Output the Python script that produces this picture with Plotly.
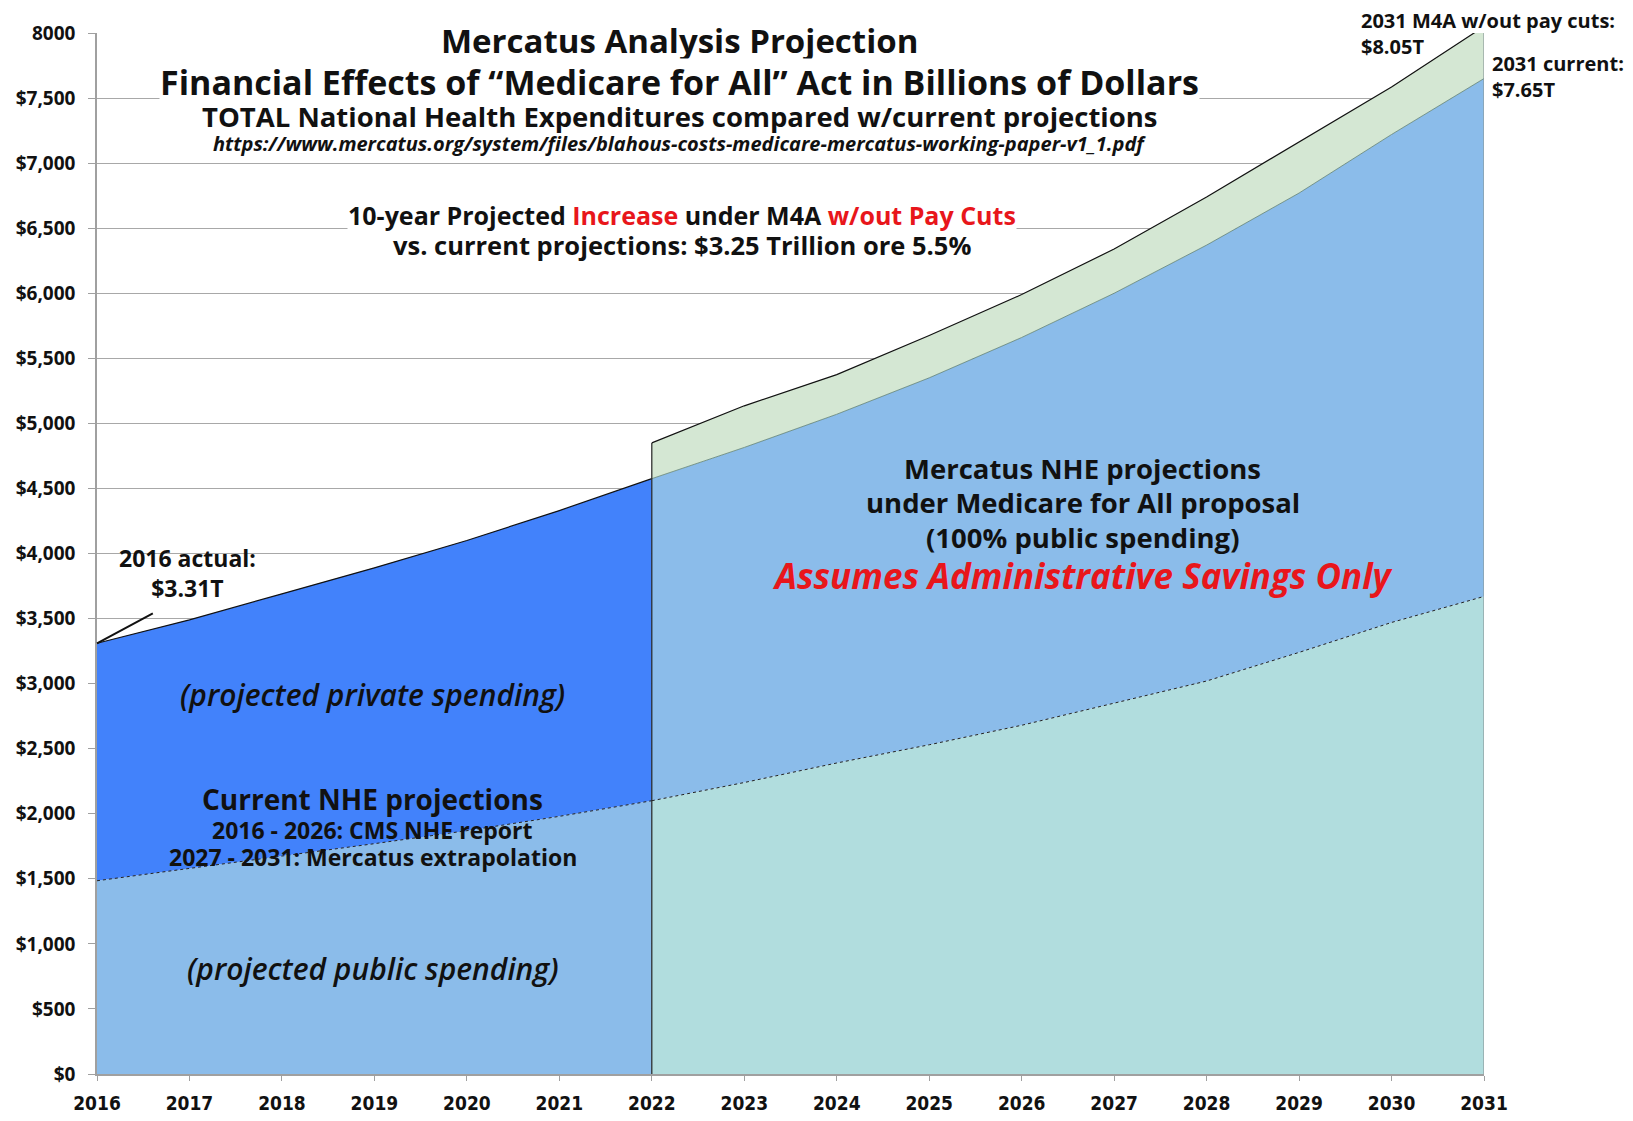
import plotly.graph_objects as go

# years
years_hist = [2016, 2017, 2018, 2019, 2020, 2021, 2022]
years_proj = [2022, 2023, 2024, 2025, 2026, 2027, 2028, 2029, 2030, 2031]

# current NHE projections (billions $)
total_hist = [3310, 3490, 3690, 3890, 4100, 4330, 4575]
public_hist = [1485, 1580, 1670, 1770, 1870, 1980, 2100]
total_proj = [4575, 4815, 5070, 5350, 5660, 6000, 6370, 6770, 7220, 7650]
public_proj = [2100, 2240, 2390, 2530, 2680, 2850, 3020, 3240, 3470, 3670]

# Mercatus M4A w/out pay cuts
m4a_proj = [4850, 5135, 5375, 5675, 5990, 6340, 6740, 7165, 7585, 8050]

y_ticks = list(range(0, 8001, 500))
y_labels = ['$' + f'{v:,}' for v in y_ticks[:-1]] + ['8000']
x_ticks = list(range(2016, 2032))

FONT = 'Open Sans'
BLACK = '#111111'
RED = '#E8161B'

fig = go.Figure()

# public spending 2016-2022
fig.add_trace(go.Scatter(x=years_hist, y=public_hist, mode='lines', fill='tozeroy',
                         fillcolor='#8BBCEA', line=dict(color='#222222', width=1, dash='dot'),
                         showlegend=False, hoverinfo='skip'))
# private spending 2016-2022
fig.add_trace(go.Scatter(x=years_hist, y=total_hist, mode='lines', fill='tonexty',
                         fillcolor='#4282FB', line=dict(color='#111111', width=1.2),
                         showlegend=False, hoverinfo='skip'))
# public under current projections 2022-2031
fig.add_trace(go.Scatter(x=years_proj, y=public_proj, mode='lines', fill='tozeroy',
                         fillcolor='#B1DDDE', line=dict(color='#222222', width=1, dash='dot'),
                         showlegend=False, hoverinfo='skip'))
# rest of current total 2022-2031
fig.add_trace(go.Scatter(x=years_proj, y=total_proj, mode='lines', fill='tonexty',
                         fillcolor='#8BBCEA', line=dict(color='#5d7f73', width=0.8),
                         showlegend=False, hoverinfo='skip'))
# M4A increase
fig.add_trace(go.Scatter(x=years_proj, y=m4a_proj, mode='lines', fill='tonexty',
                         fillcolor='#D4E7D3', line=dict(color='#111111', width=1.2),
                         showlegend=False, hoverinfo='skip'))
# vertical edges
fig.add_trace(go.Scatter(x=[years_proj[0], years_proj[0]], y=[0, m4a_proj[0]], mode='lines',
                         line=dict(color='#222222', width=1.2), showlegend=False, hoverinfo='skip'))
fig.add_trace(go.Scatter(x=[years_proj[-1], years_proj[-1]], y=[0, m4a_proj[-1]], mode='lines',
                         line=dict(color='#8a9a9a', width=1.2), showlegend=False, hoverinfo='skip'))

def note(x, y, text, size, color=BLACK, bg=None, xanchor='center', ref='', weight=None, pad=0):
    fig.add_annotation(x=x, y=y, xref='paper' if ref else 'x', yref='paper' if ref else 'y',
                       text=text, showarrow=False,
                       font=dict(family=FONT, size=size, color=color, weight=weight),
                       bgcolor=bg, xanchor=xanchor, yanchor='middle',
                       align=xanchor if xanchor != 'center' else 'center', borderpad=pad)

# titles (order matters: later ones are drawn on top of the white boxes)
note(2022.3, 7945, '<b>Mercatus Analysis Projection</b>', 33, bg='white')
note(2022.3, 7624, '<b>Financial Effects of “Medicare for All” Act in Billions of Dollars</b>', 34, bg='white')
note(2022.3, 7151, '<b><i>https://www.mercatus.org/system/files/blahous-costs-medicare-mercatus-working-paper-v1_1.pdf</i></b>',
     20, bg='white', pad=5)
note(2022.3, 7360, '<b>TOTAL National Health Expenditures compared w/current projections</b>', 27.5)

note(2022.33, 6605, '<b>10-year Projected <span style="color:#E8161B">Increase</span> under M4A '
                    '<span style="color:#E8161B">w/out Pay Cuts</span></b>', 25, bg='white')
note(2022.33, 6372, '<b>vs. current projections: $3.25 Trillion ore 5.5%</b>', 25.5)

note(2026.66, 4655, '<b>Mercatus NHE projections</b>', 27.5)
note(2026.66, 4390, '<b>under Medicare for All proposal</b>', 27.5)
note(2026.66, 4125, '<b>(100% public spending)</b>', 27.5)
note(2026.66, 3828, '<b><i>Assumes Administrative Savings Only</i></b>', 35, color=RED)

note(2018.98, 2913, '<i>(projected private spending)</i>', 30, weight=600)
note(2018.98, 2111, '<b>Current NHE projections</b>', 28)
note(2018.98, 1878, '<b>2016 - 2026: CMS NHE report</b>', 23)
note(2018.98, 1669, '<b>2027 - 2031: Mercatus extrapolation</b>', 23)
note(2018.98, 811, '<i>(projected public spending)</i>', 30, weight=600)

note(2016.98, 3852, '<b>2016 actual:<br>$3.31T</b>', 23)
fig.add_annotation(x=years_hist[0], y=total_hist[0], ax=2016.62, ay=3547, xref='x', yref='y',
                   axref='x', ayref='y', text='', showarrow=True, arrowhead=0,
                   arrowwidth=2, arrowcolor=BLACK)

# labels right of / above the plot area (paper coords so they are not hidden)
note(0.9105, 0.9995, '<b>2031 M4A w/out pay cuts:<br>$8.05T</b>', 20, xanchor='left', ref='paper')
note(1.0053, 0.958, '<b>2031 current:<br>$7.65T</b>', 20, xanchor='left', ref='paper')

fig.update_xaxes(range=[2016, 2031], tickvals=x_ticks, ticktext=[str(v) for v in x_ticks],
                 showgrid=False, zeroline=False, showline=True, linecolor='#a0a0a0', linewidth=1.5,
                 ticks='outside', ticklen=5, tickcolor='#a0a0a0', ticklabelstandoff=6,
                 automargin=False,
                 tickfont=dict(family='DejaVu Sans Condensed', size=19,
                               color=BLACK, weight='bold'))
fig.update_yaxes(range=[0, 8000], tickvals=y_ticks, ticktext=y_labels,
                 showgrid=True, gridcolor='#a8a8a8', gridwidth=1, zeroline=False,
                 showline=True, linecolor='#a0a0a0', linewidth=1.5,
                 ticks='outside', ticklen=7, tickcolor='#a0a0a0', ticklabelstandoff=9,
                 automargin=False,
                 tickfont=dict(family=FONT, size=19, color=BLACK, weight='bold'))

# the page has an 8px body margin, so the figure is sized to fit inside it
fig.update_layout(width=1617, height=1105, plot_bgcolor='white', paper_bgcolor='white',
                  margin=dict(l=89, r=141, t=25, b=39), showlegend=False,
                  font=dict(family=FONT, color=BLACK))

fig.write_html("out.html")
